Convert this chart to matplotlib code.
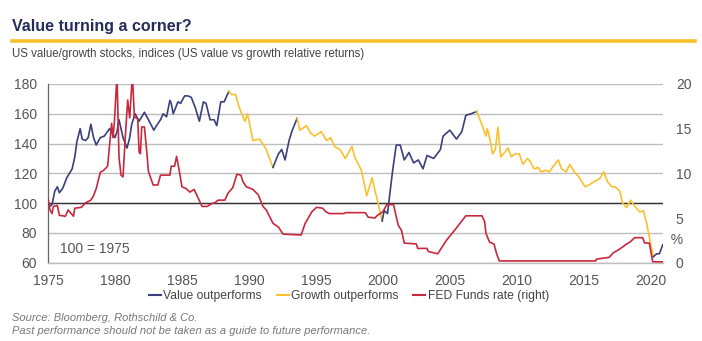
import matplotlib
matplotlib.use("Agg")
import matplotlib.pyplot as plt
from matplotlib.lines import Line2D
import numpy as np

# US value vs growth relative returns (100 = 1975)
idx_years = [
    1975.0, 1975.15, 1975.3, 1975.5, 1975.7, 1975.85, 1976.1, 1976.4, 1976.8, 1977.0,
    1977.15, 1977.4, 1977.55, 1977.8, 1978.0, 1978.2, 1978.4, 1978.6, 1978.9, 1979.2,
    1979.6, 1979.8, 1980.0, 1980.15, 1980.3, 1980.6, 1980.9, 1981.1, 1981.25, 1981.5,
    1981.8, 1982.2, 1982.5, 1982.9, 1983.1, 1983.4, 1983.6, 1983.85, 1984.1, 1984.2,
    1984.35, 1984.7, 1984.9, 1985.2, 1985.45, 1985.7, 1986.0, 1986.3, 1986.6, 1986.8,
    1987.1, 1987.4, 1987.6, 1987.9, 1988.15, 1988.5, 1988.7, 1989.0, 1989.25, 1989.7,
    1989.9, 1990.3, 1990.8, 1991.3, 1991.5, 1991.8, 1992.2, 1992.45, 1992.7, 1993.0,
    1993.2, 1993.6, 1993.8, 1994.3, 1994.6, 1994.9, 1995.4, 1995.8, 1996.1, 1996.4,
    1996.8, 1997.2, 1997.7, 1997.9, 1998.4, 1998.8, 1999.2, 1999.4, 1999.65, 1999.95,
    2000.1, 2000.35, 2000.6, 2000.75, 2001.0, 2001.3, 2001.6, 2001.95, 2002.3, 2002.65,
    2003.0, 2003.3, 2003.8, 2004.3, 2004.5, 2005.0, 2005.5, 2005.9, 2006.2, 2006.6,
    2007.0, 2007.35, 2007.7, 2007.8, 2008.0, 2008.2, 2008.4, 2008.6, 2008.8, 2009.1,
    2009.35, 2009.6, 2009.85, 2010.2, 2010.45, 2010.8, 2011.0, 2011.3, 2011.6, 2011.8,
    2012.2, 2012.45, 2012.7, 2013.1, 2013.35, 2013.7, 2013.95, 2014.3, 2014.6, 2015.1,
    2015.35, 2015.7, 2016.2, 2016.5, 2016.8, 2017.1, 2017.35, 2017.7, 2017.9, 2018.2,
    2018.5, 2018.8, 2019.2, 2019.45, 2019.7, 2019.95, 2020.2, 2020.45, 2020.65, 2020.9,
]
idx_values = [
    101, 98, 99, 108, 111, 107, 110, 117, 123, 131,
    141, 150, 143, 142, 144, 153, 144, 139, 144, 145,
    150, 147, 144, 148, 156, 144, 137, 144, 153, 160,
    155, 161, 156, 149, 152, 156, 160, 158, 169, 167,
    160, 168, 167, 172, 172, 171, 164, 155, 168, 167,
    156, 156, 152, 168, 168, 175, 173, 173, 165, 155,
    160, 142, 143, 136, 131, 124, 133, 136, 129, 142,
    148, 157, 149, 152, 147, 145, 148, 142, 144, 138,
    136, 130, 138, 131, 122, 105, 117, 109, 100, 88,
    95, 93, 112, 123, 139, 139, 129, 134, 127, 129,
    123, 132, 130, 136, 145, 149, 143, 148, 159, 160,
    161.5, 154, 145, 150, 143, 133, 136, 151, 131, 134,
    137, 131, 133, 133, 126, 130, 128, 123, 124, 121,
    122, 121, 124.5, 129, 123, 121, 126, 121, 118, 111,
    112, 114, 116.5, 121, 114, 111, 111, 108, 100, 97,
    102, 98, 94, 95, 86.5, 75, 64, 66, 66, 72,
]

# periods where one style leads: start year, end year, leader
regime_starts = [1975.0, 1988.5, 1991.8, 1993.6, 1999.95, 2007.0, 2020.2]
regime_ends = [1988.5, 1991.8, 1993.6, 1999.95, 2007.0, 2020.2, 2020.9]
regime_leader = ["value", "growth", "value", "growth", "value", "growth", "value"]

# effective Fed funds rate, %
fed_years = [
    1975.0, 1975.15, 1975.3, 1975.4, 1975.7, 1975.85, 1976.3, 1976.5, 1976.9, 1977.0,
    1977.5, 1977.8, 1978.2, 1978.4, 1978.6, 1978.9, 1979.2, 1979.45, 1979.75, 1979.85,
    1979.95, 1980.15, 1980.3, 1980.45, 1980.6, 1980.8, 1980.95, 1981.1, 1981.3, 1981.45,
    1981.7, 1981.8, 1981.9, 1982.0, 1982.2, 1982.35, 1982.5, 1982.85, 1983.2, 1983.4,
    1984.1, 1984.2, 1984.45, 1984.6, 1984.8, 1985.0, 1985.3, 1985.6, 1985.9, 1986.1,
    1986.5, 1986.9, 1987.2, 1987.45, 1987.7, 1988.2, 1988.45, 1988.8, 1989.1, 1989.4,
    1989.55, 1989.8, 1990.3, 1990.7, 1991.05, 1991.3, 1991.8, 1992.2, 1992.55, 1993.9,
    1994.2, 1994.7, 1995.05, 1995.5, 1995.75, 1996.0, 1997.1, 1997.2, 1998.7, 1998.9,
    1999.4, 1999.6, 2000.0, 2000.3, 2000.8, 2000.95, 2001.15, 2001.4, 2001.6, 2002.5,
    2002.6, 2003.3, 2003.4, 2004.1, 2004.75, 2005.5, 2006.2, 2007.4, 2007.6, 2007.7,
    2007.97, 2008.3, 2008.5, 2008.7, 2015.9, 2015.95, 2016.9, 2017.2, 2017.55, 2017.95,
    2018.1, 2018.45, 2018.8, 2019.4, 2019.55, 2019.9, 2020.15, 2020.9,
]
fed_rates = [
    7.2, 5.9, 5.5, 6.3, 6.4, 5.3, 5.2, 5.9, 5.2, 6.1,
    6.2, 6.7, 7.0, 7.5, 8.3, 10.1, 10.4, 10.8, 15.6, 14.0,
    15.6, 21.0, 11.8, 9.8, 9.6, 14.8, 18.2, 16.2, 21.0, 16.3,
    16.1, 12.4, 12.2, 15.2, 15.2, 12.8, 10.2, 8.7, 8.7, 9.8,
    9.8, 10.8, 10.8, 11.9, 10.3, 8.5, 8.3, 7.9, 8.2, 7.6,
    6.3, 6.3, 6.6, 6.7, 7.0, 7.0, 7.8, 8.4, 9.9, 9.8,
    9.1, 8.5, 8.2, 7.6, 6.3, 5.9, 4.4, 4.0, 3.2, 3.1,
    4.4, 5.7, 6.2, 6.1, 5.7, 5.5, 5.5, 5.6, 5.6, 5.1,
    5.0, 5.3, 5.7, 6.5, 6.5, 5.5, 4.2, 3.6, 2.2, 2.1,
    1.6, 1.6, 1.25, 1.0, 2.5, 3.9, 5.25, 5.25, 4.6, 3.3,
    2.3, 2.1, 1.0, 0.2, 0.2, 0.4, 0.6, 1.1, 1.4, 1.8,
    2.0, 2.3, 2.8, 2.8, 2.2, 2.2, 0.1, 0.1,
]

NAVY = "#3b3f7c"
GOLD = "#fbc02d"
RED = "#c8283e"
TEXT = "#555555"
colors = {"value": NAVY, "growth": GOLD}

plt.rcParams["font.family"] = ["Liberation Sans", "DejaVu Sans"]

fig = plt.figure(figsize=(7.02, 3.41), dpi=100)
ax = fig.add_axes([0.0684, 0.2296, 0.8766, 0.5241])

years = np.array(idx_years)
values = np.array(idx_values)
for start, end, who in zip(regime_starts, regime_ends, regime_leader):
    m = (years >= start - 1e-6) & (years <= end + 1e-6)
    ax.plot(years[m], values[m], color=colors[who], lw=1.2, zorder=4)

ax.set_xlim(1975, 2020.95)
ax.set_ylim(60, 180)
ax.set_yticks(range(60, 181, 20))
ax.set_xticks(range(1975, 2021, 5))
ax.grid(axis="y", color="#bdbdbd", lw=1)
ax.axhline(100, color="#333333", lw=1, zorder=3)
for s in ["top", "right"]:
    ax.spines[s].set_visible(False)
ax.spines["bottom"].set_color("#bdbdbd")
ax.spines["bottom"].set_linewidth(1)
ax.spines["left"].set_color("#666666")
ax.spines["left"].set_linewidth(0.9)
ax.tick_params(length=0, labelsize=10, labelcolor=TEXT, pad=8)
ax.tick_params(axis="x", pad=8)
ax.text(1975.9, 69, "100 = 1975", fontsize=10, color=TEXT, va="center")

# Fed funds on the right-hand axis
ax2 = ax.twinx()
ax2.plot(fed_years, fed_rates, color=RED, lw=1.2, zorder=5)
ax2.set_ylim(0, 20)
ax2.set_yticks([0, 5, 10, 15, 20])
for s in ax2.spines.values():
    s.set_visible(False)
ax2.tick_params(length=0, labelsize=10, labelcolor=TEXT, pad=9)
ax2.text(1.0, 2.5, "  %", transform=ax2.get_yaxis_transform(), fontsize=10,
         color=TEXT, va="center", ha="left")
ax2.set_zorder(ax.get_zorder() + 1)

# header
fig.text(0.017, 0.91, "Value turning a corner?", fontsize=11.5, fontweight="bold",
         color="#252d5c")
fig.add_artist(Line2D([0.017, 0.99], [0.88, 0.88], color=GOLD, lw=2.6,
                      transform=fig.transFigure))
fig.text(0.017, 0.834, "US value/growth stocks, indices (US value vs growth relative returns)",
         fontsize=8.3, color="#444444")

handles = [Line2D([], [], color=NAVY, lw=1.5),
           Line2D([], [], color=GOLD, lw=1.5),
           Line2D([], [], color=RED, lw=1.5)]
labels = ["Value outperforms", "Growth outperforms", "FED Funds rate (right)"]
fig.legend(handles, labels, loc="center", bbox_to_anchor=(0.497, 0.131), ncol=3,
           frameon=False, fontsize=8.7, labelcolor="#444444", handlelength=1.0,
           handletextpad=0.2, columnspacing=1.2)

fig.text(0.017, 0.067, "Source: Bloomberg, Rothschild & Co.", fontsize=8,
         style="italic", color="#777777", va="center")
fig.text(0.017, 0.030, "Past performance should not be taken as a guide to future performance.",
         fontsize=8, style="italic", color="#777777", va="center")

fig.savefig("out.png", dpi=100)
